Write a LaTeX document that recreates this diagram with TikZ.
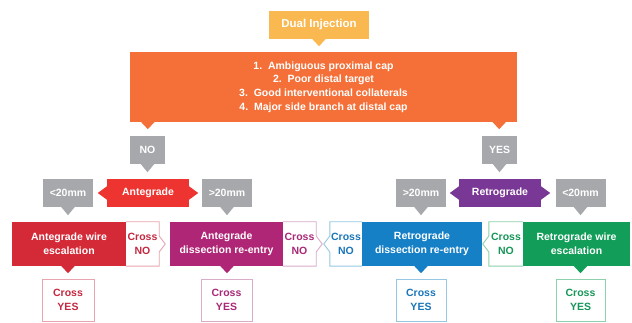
\documentclass[tikz,border=0pt]{standalone}
\usepackage{fontspec}
\setmainfont{Liberation Sans}
\usetikzlibrary{calc}
\definecolor{diY}{RGB}{250,184,80}
\definecolor{orng}{RGB}{244,112,56}
\definecolor{gry}{RGB}{166,168,171}
\definecolor{antR}{RGB}{238,52,48}
\definecolor{aweR}{RGB}{212,42,56}
\definecolor{mag}{RGB}{176,38,118}
\definecolor{blu}{RGB}{22,128,198}
\definecolor{pur}{RGB}{122,56,150}
\definecolor{grn}{RGB}{18,158,88}
\definecolor{redT}{RGB}{196,40,64}
\definecolor{redB}{RGB}{232,165,175}
\definecolor{magT}{RGB}{168,40,118}
\definecolor{magB}{RGB}{218,172,202}
\definecolor{bluT}{RGB}{26,118,186}
\definecolor{bluB}{RGB}{150,200,228}
\definecolor{grnT}{RGB}{22,150,88}
\definecolor{grnB}{RGB}{140,208,172}
\tikzset{
  lbl/.style={rectangle, inner sep=0pt, align=center, text=white,
    font=\bfseries\fontsize{10.5}{14}\selectfont},
  graybox/.style={lbl, fill=gry, minimum width=50, minimum height=28},
  bigbox/.style={lbl, minimum height=44},
  crossno/.style={lbl, fill=white, minimum height=44},
  crossyes/.style={lbl, fill=white, draw, line width=0.9pt, minimum height=42,
    font=\bfseries\fontsize{10.5}{14.5}\selectfont},
  bord/.style={line width=0.9pt},
}
\begin{document}
\begin{tikzpicture}[x=1pt,y=-1pt]
\useasboundingbox[fill=white] (0,0) rectangle (632,323);

% top
\node[lbl, fill=diY, minimum width=100, minimum height=28,
  font=\bfseries\fontsize{11.5}{14}\selectfont] (dual) at (319,25) {Dual Injection};
\fill[diY] ($(dual.south)+(-7,-0.5)$) -- ($(dual.south)+(0,7)$) -- ($(dual.south)+(7,-0.5)$) -- cycle;

\node[lbl, fill=orng, minimum width=387, minimum height=70,
  font=\bfseries\fontsize{10.5}{13.7}\selectfont] (crit) at (323.5,87)
  {1.~~Ambiguous proximal cap\\2.~~Poor distal target\\3.~~Good interventional collaterals\\4.~~Major side branch at distal cap};
\coordinate (cl) at ($(crit.south west)+(18,0)$);
\coordinate (cr) at ($(crit.south east)+(-18,0)$);
\fill[orng] ($(cl)+(-7,-0.5)$) -- ($(cl)+(0,7)$) -- ($(cl)+(7,-0.5)$) -- cycle;
\fill[orng] ($(cr)+(-7,-0.5)$) -- ($(cr)+(0,7)$) -- ($(cr)+(7,-0.5)$) -- cycle;

% NO / YES
\node[graybox, minimum width=35] (no) at (147.5,150) {NO};
\node[graybox, minimum width=35] (yes) at (499.5,150) {YES};
\foreach \n in {no,yes}
  \fill[gry] ($(\n.south)+(-7,-0.5)$) -- ($(\n.south)+(0,8)$) -- ($(\n.south)+(7,-0.5)$) -- cycle;

% second row
\node[graybox] (lt20a) at (68,193) {<20mm};
\node[lbl, fill=antR, minimum width=82, minimum height=28] (ant) at (148,193) {Antegrade};
\node[graybox] (gt20a) at (227,193) {>20mm};
\node[graybox] (gt20r) at (421,193) {>20mm};
\node[lbl, fill=pur, minimum width=82, minimum height=28] (ret) at (500,193) {Retrograde};
\node[graybox] (lt20r) at (580.5,193) {<20mm};
\foreach \n in {lt20a,gt20a,gt20r,lt20r}
  \fill[gry] ($(\n.south)+(-7,-0.5)$) -- ($(\n.south)+(0,8)$) -- ($(\n.south)+(7,-0.5)$) -- cycle;
\foreach \n/\c in {ant/antR,ret/pur}{
  \fill[\c] ($(\n.west)+(0.5,-7)$) -- ($(\n.west)+(-9,0)$) -- ($(\n.west)+(0.5,7)$) -- cycle;
  \fill[\c] ($(\n.east)+(-0.5,-7)$) -- ($(\n.east)+(9,0)$) -- ($(\n.east)+(-0.5,7)$) -- cycle;
}

% third row
\node[bigbox, fill=aweR, minimum width=114] (awe) at (69,244) {Antegrade wire\\escalation};
\node[crossno, minimum width=33, text=redT] (cna) at (142.5,244) {Cross\\NO};
\node[bigbox, fill=mag, minimum width=113] (adr) at (226.5,244) {Antegrade\\dissection re-entry};
\node[crossno, minimum width=33, text=magT] (cnb) at (299.5,244) {Cross\\NO};
\node[crossno, minimum width=32, text=bluT] (cnc) at (346,244) {Cross\\NO};
\node[bigbox, fill=blu, minimum width=120] (rdr) at (422,244) {Retrograde\\dissection re-entry};
\node[crossno, minimum width=34, text=grnT] (cnd) at (506,244) {Cross\\NO};
\node[bigbox, fill=grn, minimum width=107] (rwe) at (576.5,244) {Retrograde wire\\escalation};

% chevron borders of the Cross NO boxes
\foreach \n/\c in {cna/redB,cnb/magB}
  \draw[bord, \c] (\n.north west) -- (\n.north east) -- ($(\n.east)+(0,-8)$) -- ($(\n.east)+(6,0)$)
    -- ($(\n.east)+(0,8)$) -- (\n.south east) -- (\n.south west);
\foreach \n/\c in {cnc/bluB,cnd/grnB}
  \draw[bord, \c] (\n.north east) -- (\n.north west) -- ($(\n.west)+(0,-8)$) -- ($(\n.west)+(-6,0)$)
    -- ($(\n.west)+(0,8)$) -- (\n.south west) -- (\n.south east);

% pointers of the third row
\foreach \a/\b/\c in {lt20a/awe/aweR, gt20a/adr/mag, gt20r/rdr/blu, lt20r/rwe/grn}{
  \coordinate (p) at (\a.south |- \b.south);
  \fill[\c] ($(p)+(-7,-0.5)$) -- ($(p)+(0,7)$) -- ($(p)+(7,-0.5)$) -- cycle;
}

% Cross YES
\node[crossyes, draw=redB, text=redT, minimum width=52] (ya) at (68,300) {Cross\\YES};
\node[crossyes, draw=magB, text=magT, minimum width=51] (yb) at (226.5,300) {Cross\\YES};
\node[crossyes, draw=bluB, text=bluT, minimum width=50] (yc) at (421,300) {Cross\\YES};
\node[crossyes, draw=grnB, text=grnT, minimum width=49] (yd) at (580.5,300) {Cross\\YES};
\end{tikzpicture}
\end{document}
